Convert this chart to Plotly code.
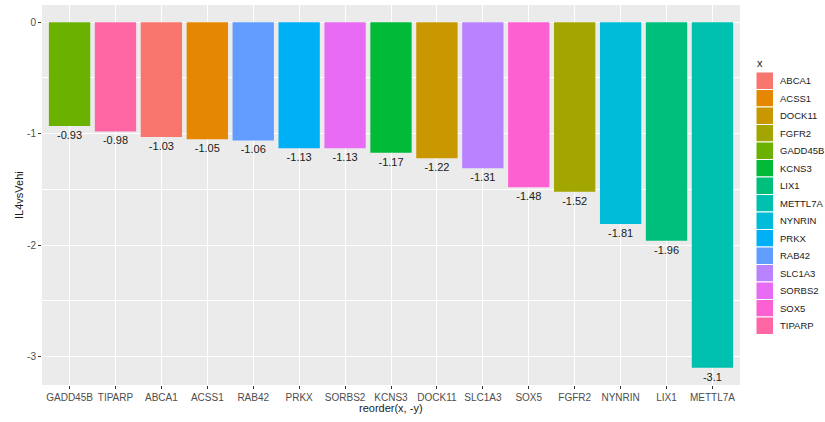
import plotly.graph_objects as go

genes = ["GADD45B", "TIPARP", "ABCA1", "ACSS1", "RAB42", "PRKX", "SORBS2", "KCNS3",
         "DOCK11", "SLC1A3", "SOX5", "FGFR2", "NYNRIN", "LIX1", "METTL7A"]
values = [-0.93, -0.98, -1.03, -1.05, -1.06, -1.13, -1.13, -1.17,
          -1.22, -1.31, -1.48, -1.52, -1.81, -1.96, -3.1]
legend_names = ["ABCA1", "ACSS1", "DOCK11", "FGFR2", "GADD45B", "KCNS3", "LIX1", "METTL7A",
                "NYNRIN", "PRKX", "RAB42", "SLC1A3", "SORBS2", "SOX5", "TIPARP"]
palette = ["#F8766D", "#E58700", "#C99800", "#A3A500", "#6BB100", "#00BA38", "#00BF7D", "#00C0AF",
           "#00BCD8", "#00B0F6", "#619CFF", "#B983FF", "#E76BF3", "#FD61D1", "#FF67A4"]
y_ticks = [0, -1, -2, -3]
x_title = "reorder(x, -y)"
y_title = "IL4vsVehi"

cmap = dict(zip(legend_names, palette))
W, H = 825, 422
ml, mr, mt, mb = 42, 85, 5, 37
pw, ph = W - ml - mr, H - mt - mb

fig = go.Figure()
fig.add_trace(go.Bar(
    x=genes, y=values,
    marker=dict(color=[cmap[g] for g in genes], line=dict(width=0)),
    width=0.9,
    text=[f"{v:g}" for v in values],
    textposition="outside",
    textfont=dict(size=11, color="#1a1a1a", family="Liberation Sans, Arial, sans-serif"),
    cliponaxis=False,
    showlegend=False,
    hoverinfo="x+y",
))

dmin, dmax = min(values), 0
pad = (dmax - dmin) * 0.05

fig.update_layout(
    width=W, height=H,
    margin=dict(l=ml, r=mr, t=mt, b=mb, autoexpand=False),
    paper_bgcolor="white",
    plot_bgcolor="#EBEBEB",
    font=dict(family="Liberation Sans, Arial, sans-serif", size=10, color="#4D4D4D"),
    bargap=0.1,
    xaxis=dict(
        type="category", categoryorder="array", categoryarray=genes,
        range=[-0.6, len(genes) - 0.4],
        automargin=False, tickangle=0,
        showgrid=True, gridcolor="white", gridwidth=1,
        ticks="outside", ticklen=3, tickcolor="#333333", tickwidth=1,
        tickfont=dict(size=10, color="#4D4D4D"),
        showline=False, zeroline=False,
    ),
    yaxis=dict(
        range=[dmin - pad, dmax + pad],
        automargin=False,
        tickvals=y_ticks, ticktext=[f"{t:g}" for t in y_ticks],
        showgrid=True, gridcolor="white", gridwidth=1.1,
        minor=dict(dtick=0.5, tick0=0, showgrid=True, gridcolor="white", gridwidth=0.5, ticks=""),
        ticks="outside", ticklen=3, tickcolor="#333333", tickwidth=1,
        tickfont=dict(size=10, color="#4D4D4D"),
        showline=False, zeroline=False,
    ),
)

def px_x(px):
    return (px - ml) / pw

def px_y(py):
    return (H - mb - py) / ph

shapes = []
annotations = [
    dict(x=0.5, y=px_y(408), xref="paper", yref="paper", text=x_title, showarrow=False,
         xanchor="center", yanchor="middle", font=dict(size=11, color="#1a1a1a")),
    dict(x=px_x(19), y=0.5, xref="paper", yref="paper", text=y_title, showarrow=False,
         textangle=-90, xanchor="center", yanchor="middle", font=dict(size=11, color="#1a1a1a")),
    dict(x=px_x(755), y=px_y(63), xref="paper", yref="paper", text="x",
         showarrow=False, xanchor="left", yanchor="middle", font=dict(size=11, color="#1a1a1a")),
]
# manual ggplot-style legend
key_top, key_h = 72, 17.5
for i, name in enumerate(legend_names):
    y0 = key_top + i * key_h
    shapes.append(dict(type="rect", xref="paper", yref="paper",
                       x0=px_x(756), x1=px_x(773.5), y0=px_y(y0 + key_h), y1=px_y(y0),
                       fillcolor=cmap[name], line=dict(color="white", width=1)))
    annotations.append(dict(x=px_x(778), y=px_y(y0 + key_h / 2), xref="paper", yref="paper",
                            text=name, showarrow=False, xanchor="left", yanchor="middle",
                            font=dict(size=9.5, color="#1a1a1a")))
fig.update_layout(shapes=shapes, annotations=annotations)

fig.write_html("out.html", config={"displayModeBar": False},
               post_script="document.body.style.margin='0';")
